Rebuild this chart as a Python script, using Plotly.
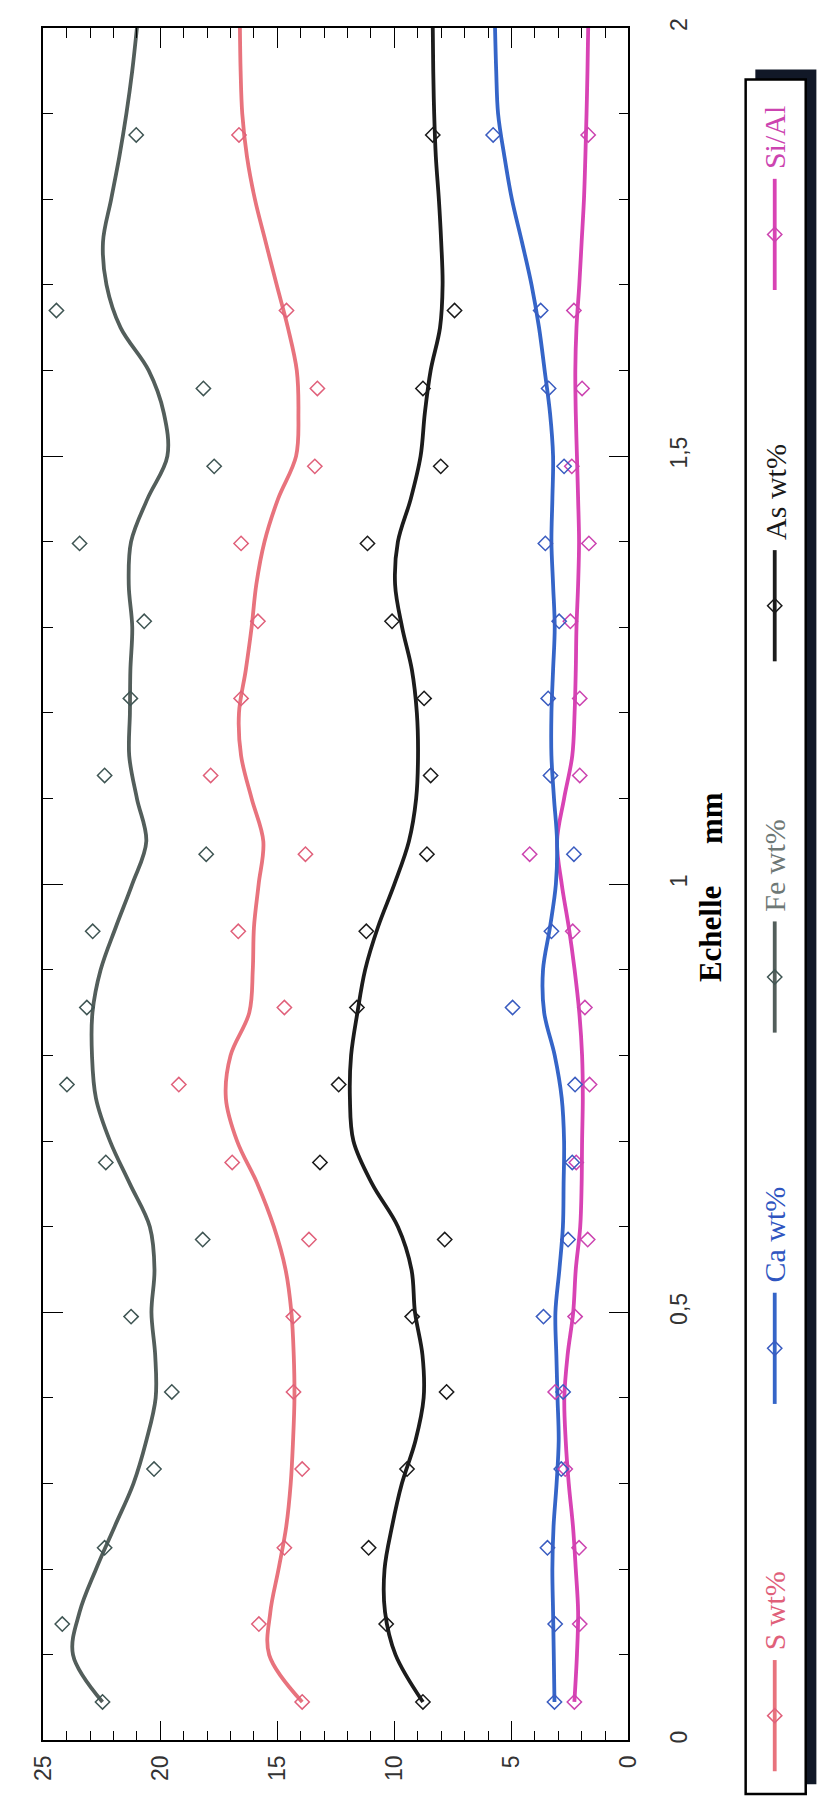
import plotly.graph_objects as go

# ---------------- data ----------------
# marker positions along the profile (mm)
x_pts = [0.045, 0.136, 0.225, 0.317, 0.407, 0.495, 0.585, 0.675, 0.766, 0.856,
         0.945, 1.035, 1.127, 1.217, 1.307, 1.398, 1.488, 1.579, 1.670, 1.875]

fe_pts = [22.47, 24.19, 22.38, 20.27, 19.51, 21.25, 18.19, 22.33, 23.99, 23.14,
          22.89, 18.04, 22.38, 21.28, 20.69, 23.45, 17.70, 18.16, 24.44, 21.03]
s_pts = [13.94, 15.79, 14.70, 13.94, 14.31, 14.32, 13.65, 16.93, 19.21, 14.70,
         16.67, 13.80, 17.85, 16.55, 15.83, 16.55, 13.40, 13.29, 14.61, 16.64]
as_pts = [8.78, 10.35, 11.10, 9.46, 7.77, 9.24, 7.85, 13.18, 12.38, 11.60,
          11.20, 8.61, 8.45, 8.73, 10.10, 11.15, 8.02, 8.78, 7.43, 8.36]
ca_pts = [3.16, 3.13, 3.46, 2.87, 2.79, 3.63, 2.58, 2.40, 2.28, 4.95,
          3.29, 2.33, 3.33, 3.43, 2.96, 3.55, 2.75, 3.41, 3.75, 5.78]
sial_pts = [2.31, 2.08, 2.11, 2.70, 3.13, 2.28, 1.74, 2.23, 1.66, 1.86,
            2.38, 4.22, 2.08, 2.08, 2.48, 1.69, 2.42, 1.98, 2.33, 1.72]

# smoothed curves, read at regular positions (mm)
curve_x = [0.045, 0.10, 0.15, 0.20, 0.25, 0.30, 0.35, 0.40, 0.45, 0.50,
           0.55, 0.60, 0.65, 0.70, 0.75, 0.80, 0.85, 0.90, 0.95, 1.00,
           1.05, 1.10, 1.15, 1.20, 1.25, 1.30, 1.35, 1.40, 1.45, 1.50,
           1.55, 1.60, 1.65, 1.70, 1.75, 1.80, 1.85, 1.90, 1.95, 2.00]

fe_curve = [22.47, 23.73, 23.45, 22.75, 21.95, 21.15, 20.60, 20.20, 20.22, 20.38,
            20.25, 20.45, 21.30, 22.15, 22.75, 22.92, 22.90, 22.55, 21.90, 21.20,
            20.60, 21.00, 21.33, 21.30, 21.28, 21.20, 21.35, 21.25, 20.55, 19.70,
            19.85, 20.50, 21.70, 22.30, 22.45, 22.10, 21.75, 21.45, 21.20, 21.00]
s_curve = [13.94, 15.35, 15.30, 14.95, 14.62, 14.43, 14.33, 14.27, 14.30, 14.40,
           14.65, 15.15, 15.85, 16.72, 17.20, 17.00, 16.20, 16.05, 16.00, 15.80,
           15.60, 16.10, 16.55, 16.64, 16.35, 16.10, 15.90, 15.55, 14.97, 14.20,
           14.10, 14.17, 14.55, 15.03, 15.50, 15.96, 16.30, 16.50, 16.57, 16.60]
as_curve = [8.78, 9.95, 10.40, 10.42, 10.10, 9.68, 9.10, 8.75, 8.80, 9.12,
            9.27, 9.85, 10.95, 11.75, 11.90, 11.85, 11.58, 11.25, 10.70, 10.00,
            9.38, 9.07, 8.99, 9.04, 9.25, 9.67, 9.97, 9.85, 9.30, 8.88,
            8.70, 8.45, 8.05, 7.94, 8.00, 8.10, 8.23, 8.30, 8.34, 8.36]
ca_curve = [3.16, 3.19, 3.22, 3.25, 3.20, 3.07, 2.98, 3.03, 3.08, 3.12,
            2.95, 2.80, 2.77, 2.75, 2.85, 3.15, 3.60, 3.65, 3.35, 3.10,
            3.05, 3.18, 3.29, 3.29, 3.22, 3.15, 3.22, 3.29, 3.25, 3.22,
            3.35, 3.58, 3.82, 4.14, 4.55, 4.98, 5.30, 5.57, 5.65, 5.70]
sial_curve = [2.31, 2.20, 2.15, 2.25, 2.37, 2.55, 2.68, 2.74, 2.60, 2.36,
              2.25, 2.06, 2.00, 1.98, 1.95, 1.98, 2.10, 2.30, 2.55, 2.85,
              3.05, 2.75, 2.40, 2.30, 2.25, 2.22, 2.15, 2.11, 2.15, 2.20,
              2.25, 2.27, 2.22, 2.10, 2.00, 1.90, 1.84, 1.79, 1.75, 1.72]

series_names = ["S wt%", "Ca wt%", "Fe wt%", "As wt%", "Si/Al"]
x_ticks = [0, 5, 10, 15, 20, 25]

# ---------------- styles ----------------
W, H = 832, 1800
line_colors = {"Fe wt%": "#535e5b", "S wt%": "#e8737d", "As wt%": "#1c1c1c",
               "Ca wt%": "#3565c8", "Si/Al": "#d843b4"}
marker_colors = {"Fe wt%": "#3f5553", "S wt%": "#e0607a", "As wt%": "#1a1a1a",
                 "Ca wt%": "#3a5cc0", "Si/Al": "#cc44b0"}
text_colors = {"Fe wt%": "#6e7876", "S wt%": "#e0607a", "As wt%": "#1a1a1a",
               "Ca wt%": "#2f55c0", "Si/Al": "#cc44b0"}

pts = {"Fe wt%": fe_pts, "S wt%": s_pts, "As wt%": as_pts,
       "Ca wt%": ca_pts, "Si/Al": sial_pts}
curves = {"Fe wt%": fe_curve, "S wt%": s_curve, "As wt%": as_curve,
          "Ca wt%": ca_curve, "Si/Al": sial_curve}

# plot area in pixels
PL, PR, PT, PB = 22, 626, 10, 1735

fig = go.Figure()

draw_order = ["Si/Al", "Ca wt%", "As wt%", "S wt%", "Fe wt%"]
for name in draw_order:
    fig.add_trace(go.Scatter(
        x=curves[name], y=curve_x, mode="lines", line_shape="spline",
        line=dict(color=line_colors[name], width=3.8, smoothing=1.0),
        showlegend=False, hoverinfo="skip"))
for name in draw_order:
    fig.add_trace(go.Scatter(
        x=pts[name], y=x_pts, mode="markers",
        marker=dict(symbol="diamond-open", size=11, color=marker_colors[name],
                    line=dict(width=1.5, color=marker_colors[name])),
        showlegend=False, name=name))

# ---------------- legend (pixel overlay axes) ----------------
legend_cx = 777
legend_cy = {"Si/Al": 218, "As wt%": 592, "Fe wt%": 966, "Ca wt%": 1340, "S wt%": 1710}
for name in series_names:
    cy = legend_cy[name]
    fig.add_trace(go.Scatter(
        x=[legend_cx, legend_cx], y=[cy - 56, cy + 56], mode="lines",
        line=dict(color=line_colors[name], width=3.8),
        xaxis="x2", yaxis="y2", showlegend=False, hoverinfo="skip"))
    fig.add_trace(go.Scatter(
        x=[legend_cx], y=[cy], mode="markers",
        marker=dict(symbol="diamond-open", size=11, color=marker_colors[name],
                    line=dict(width=1.5, color=marker_colors[name])),
        xaxis="x2", yaxis="y2", showlegend=False, hoverinfo="skip"))

shapes = [
    # shadow
    dict(type="rect", xref="x2", yref="y2", x0=757, x1=820, y0=52, y1=1779,
         fillcolor="#111827", line=dict(width=0), layer="below"),
    # box
    dict(type="rect", xref="x2", yref="y2", x0=747, x1=809, y0=62, y1=1789,
         fillcolor="white", line=dict(color="black", width=2.5), layer="below"),
]

annotations = []
serif = "Liberation Serif, Times New Roman, serif"
for name in series_names:
    cy = legend_cy[name]
    annotations.append(dict(
        xref="x2", yref="y2", x=legend_cx, y=cy - 64, text=name,
        textangle=-90, showarrow=False, xanchor="center", yanchor="bottom",
        font=dict(family=serif, size=30, color=text_colors[name])))
annotations.append(dict(
    xref="x2", yref="y2", x=711, y=923, text="<b>Echelle</b>", textangle=-90,
    showarrow=False, xanchor="center", yanchor="middle",
    font=dict(family=serif, size=31, color="black")))
annotations.append(dict(
    xref="x2", yref="y2", x=711, y=806, text="<b>mm</b>", textangle=-90,
    showarrow=False, xanchor="center", yanchor="middle",
    font=dict(family=serif, size=31, color="black")))

sans = "Liberation Sans, Arial, sans-serif"
fig.update_layout(
    width=W, height=H,
    margin=dict(l=0, r=0, t=0, b=0),
    paper_bgcolor="white", plot_bgcolor="rgba(0,0,0,0)",
    separators=", ",
    showlegend=False,
    shapes=shapes,
    annotations=annotations,
    xaxis=dict(
        domain=[PL / W, PR / W], range=[25, 0],
        tickvals=x_ticks, ticks="inside", ticklen=20, tickwidth=1.3, tickcolor="black",
        minor=dict(dtick=1, tick0=0, ticks="inside", ticklen=10, tickwidth=1.2,
                   tickcolor="black"),
        showline=True, linecolor="black", linewidth=1.6, mirror="ticks",
        showgrid=False, zeroline=False, tickangle=-90,
        tickfont=dict(family=sans, size=23, color="#333"),
        ticklabelstandoff=4, fixedrange=True),
    yaxis=dict(
        domain=[(H - PB) / H, (H - PT) / H], range=[0, 2],
        dtick=0.5, tick0=0, side="right", ticks="inside", ticklen=20, tickwidth=1.3,
        tickcolor="black",
        minor=dict(dtick=0.1, tick0=0, ticks="inside", ticklen=10, tickwidth=1.2,
                   tickcolor="black"),
        showline=True, linecolor="black", linewidth=1.6, mirror="ticks",
        showgrid=False, zeroline=False, tickangle=-90,
        tickfont=dict(family=sans, size=23, color="#333"),
        ticklabelstandoff=29, fixedrange=True),
    xaxis2=dict(domain=[0, 1], range=[0, W], visible=False, fixedrange=True,
                anchor="y2"),
    yaxis2=dict(domain=[0, 1], range=[H, 0], visible=False, fixedrange=True,
                anchor="x2"),
)

fig.write_html("out.html")
